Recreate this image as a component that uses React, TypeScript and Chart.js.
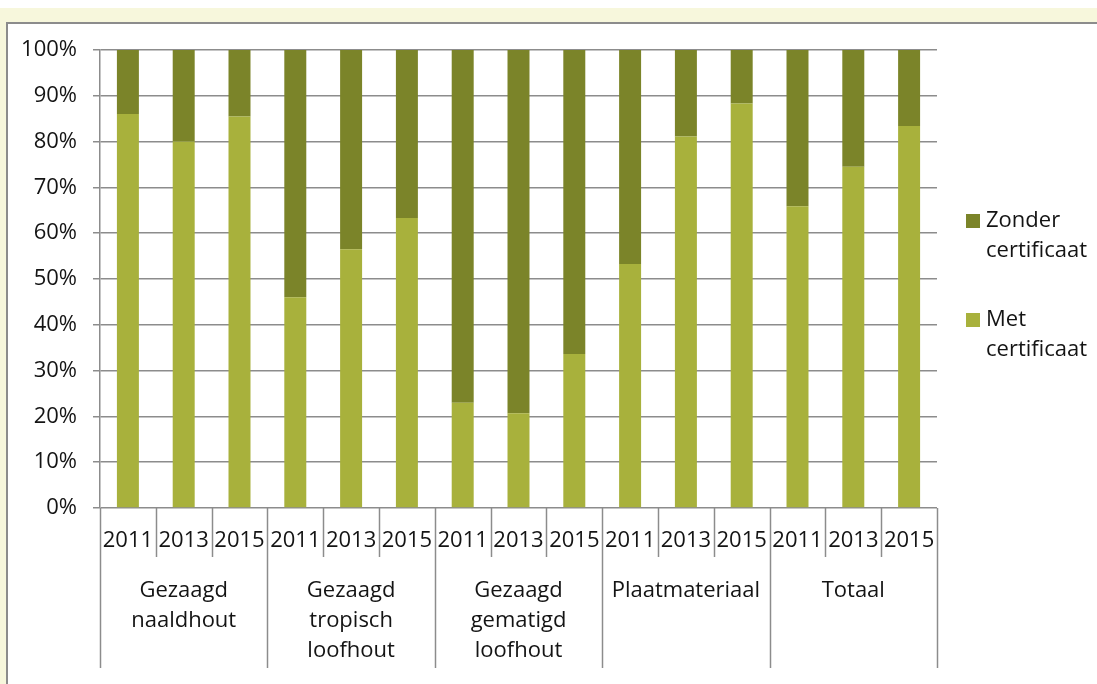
import React, { useEffect, useRef } from "react";
import { Chart, registerables } from "chart.js";

Chart.register(...registerables);

const groups: string[][] = [
  ["Gezaagd", "naaldhout"],
  ["Gezaagd", "tropisch", "loofhout"],
  ["Gezaagd", "gematigd", "loofhout"],
  ["Plaatmateriaal"],
  ["Totaal"],
];
const years: string[] = ["2011", "2013", "2015"];
const categories: string[] = groups.flatMap((g) => years.map((y) => `${g.join(" ")} ${y}`));

const metCertificaat: number[] = [86, 80, 85.5, 46, 56.5, 63.3, 23, 20.7, 33.6, 53.3, 81.1, 88.3, 65.9, 74.5, 83.4];
const zonderCertificaat: number[] = metCertificaat.map((v) => +(100 - v).toFixed(1));

const legendItems: { label: string[]; color: string }[] = [
  { label: ["Zonder", "certificaat"], color: "#7B8429" },
  { label: ["Met", "certificaat"], color: "#A8B13C" },
];

const FONT = "'Open Sans', 'Noto Sans', sans-serif";
const FS = 22;
const GRID = "#8C8C8C";
const TEXT = "#141414";

const axisLabelsPlugin = {
  id: "multiLevelAxis",
  afterDraw(chart: any) {
    const ctx = chart.ctx;
    const x = chart.scales.x;
    const area = chart.chartArea;
    const slot = x.getPixelForValue(1) - x.getPixelForValue(0);
    ctx.save();
    ctx.strokeStyle = GRID;
    ctx.lineWidth = 1.5;
    const n = categories.length;
    for (let i = 0; i <= n; i++) {
      const px = Math.round(x.getPixelForValue(0) - slot / 2 + i * slot) + 0.5;
      const end = i % years.length === 0 ? area.bottom + 160 : area.bottom + 49;
      ctx.beginPath();
      ctx.moveTo(px, area.bottom);
      ctx.lineTo(px, end);
      ctx.stroke();
    }
    ctx.fillStyle = TEXT;
    ctx.font = `${FS}px ${FONT}`;
    ctx.textAlign = "center";
    ctx.textBaseline = "middle";
    for (let i = 0; i < n; i++) {
      ctx.fillText(years[i % years.length], x.getPixelForValue(i), area.bottom + 33);
    }
    groups.forEach((g, gi) => {
      const cx = x.getPixelForValue(gi * years.length + 1);
      g.forEach((line, li) => {
        ctx.fillText(line, cx, area.bottom + 83 + li * 30);
      });
    });
    // legend
    const lx = area.right + 29;
    let ly = area.top + 171;
    ctx.textAlign = "left";
    legendItems.forEach((item) => {
      ctx.fillStyle = item.color;
      ctx.fillRect(lx, ly - 7, 14, 14);
      ctx.fillStyle = TEXT;
      item.label.forEach((t, ti) => {
        ctx.fillText(t, lx + 20, ly + ti * 30);
      });
      ly += 99;
    });
    ctx.restore();
  },
};

export default function App() {
  const ref = useRef<HTMLCanvasElement | null>(null);
  useEffect(() => {
    if (!ref.current) return;
    const chart = new Chart(ref.current, {
      type: "bar",
      data: {
        labels: categories,
        datasets: [
          {
            label: "Met certificaat",
            data: metCertificaat,
            backgroundColor: legendItems[1].color,
            barPercentage: 0.394,
            categoryPercentage: 1,
          },
          {
            label: "Zonder certificaat",
            data: zonderCertificaat,
            backgroundColor: legendItems[0].color,
            barPercentage: 0.394,
            categoryPercentage: 1,
          },
        ],
      },
      options: {
        responsive: false,
        animation: false,
        layout: { padding: { top: 50, right: 160, bottom: 0, left: 0 } },
        plugins: { legend: { display: false }, tooltip: { enabled: false } },
        scales: {
          x: {
            stacked: true,
            ticks: { display: false },
            grid: { display: false },
            border: { display: false },
            afterFit: (s: any) => {
              s.height = 176;
            },
          },
          y: {
            stacked: true,
            min: 0,
            max: 100,
            ticks: {
              stepSize: 10,
              callback: (v: any) => `${v}%`,
              font: { family: FONT, size: FS },
              color: TEXT,
              padding: 16,
            },
            grid: { color: GRID, lineWidth: 1.5, tickLength: 7 },
            border: { display: true, color: GRID, width: 1.5 },
            afterFit: (s: any) => {
              s.width = 100;
            },
          },
        },
      },
      plugins: [axisLabelsPlugin],
    });
    return () => chart.destroy();
  }, []);

  return (
    <div style={{ position: "absolute", left: 0, top: 0, width: 1097, height: 684, overflow: "hidden", background: "#fff" }}>
      <div style={{ position: "absolute", left: 0, top: 8, width: 1097, height: 676, background: "#F7F7DC" }} />
      <div
        style={{
          position: "absolute",
          left: 6,
          top: 22,
          width: 1200,
          height: 800,
          background: "#fff",
          borderLeft: `2px solid ${GRID}`,
          borderTop: `2px solid ${GRID}`,
        }}
      />
      <canvas ref={ref} width={1097} height={684} style={{ position: "absolute", left: 0, top: 0 }} />
    </div>
  );
}
